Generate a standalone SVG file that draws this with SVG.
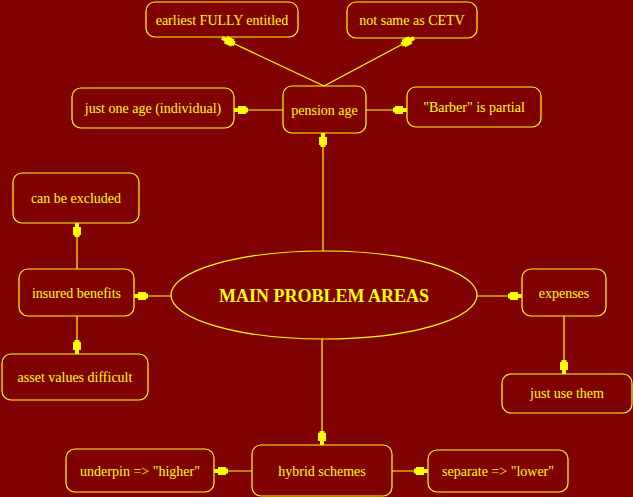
<svg xmlns="http://www.w3.org/2000/svg" width="633" height="497" viewBox="0 0 633 497">
<defs>
<style>
.n rect,.n ellipse{fill:none;stroke:#ffff00;stroke-width:1.2}
.n text{fill:#ffff00;font-family:"Liberation Serif","Times New Roman",serif;font-size:14px;text-anchor:middle}
.n text.main{font-size:18px;font-weight:bold}
#edges line{stroke:#ffff00;stroke-width:1.2;marker-end:url(#ah)}
</style>
<marker id="ah" markerUnits="userSpaceOnUse" markerWidth="16" markerHeight="12" viewBox="0 -6 15 12" refX="14" refY="0" orient="auto">
<polygon points="0,-2.5 2,-2.5 2,-4 10,-4 10,-2 14,-2 14,2 10,2 10,4 2,4 2,2.5 0,2.5" fill="#ffff00"/>
</marker>
</defs>
<rect x="0" y="0" width="633" height="497" fill="#800000"/>
<g id="edges">
<line x1="324" y1="86" x2="222" y2="38"/>
<line x1="324" y1="86" x2="414" y2="38"/>
<line x1="283" y1="110" x2="234" y2="110"/>
<line x1="366" y1="110" x2="407" y2="110"/>
<line x1="323" y1="251" x2="323" y2="133"/>
<line x1="171" y1="296" x2="134" y2="296"/>
<line x1="77" y1="269" x2="77" y2="223"/>
<line x1="77" y1="316" x2="77" y2="354"/>
<line x1="477" y1="296" x2="522" y2="296"/>
<line x1="564" y1="316" x2="564" y2="374"/>
<line x1="322" y1="339" x2="322" y2="445"/>
<line x1="252" y1="471" x2="214" y2="471"/>
<line x1="392" y1="471" x2="428" y2="471"/>
</g>
<g id="n_earliest" class="n"><rect x="146" y="2" width="152" height="35" rx="9"/><text x="222" y="25">earliest FULLY entitled</text></g>
<g id="n_cetv" class="n"><rect x="347" y="2" width="130" height="36" rx="9"/><text x="412" y="25">not same as CETV</text></g>
<g id="n_oneage" class="n"><rect x="72" y="88" width="162" height="40" rx="9"/><text x="153" y="113">just one age (individual)</text></g>
<g id="n_pension" class="n"><rect x="283" y="86" width="83" height="47" rx="9"/><text x="324.5" y="115">pension age</text></g>
<g id="n_barber" class="n"><rect x="407" y="87" width="134" height="40" rx="9"/><text x="474" y="112">"Barber" is partial</text></g>
<g id="n_excluded" class="n"><rect x="13" y="173" width="126" height="50" rx="9"/><text x="76" y="203">can be excluded</text></g>
<g id="n_insured" class="n"><rect x="19" y="269" width="115" height="47" rx="9"/><text x="76.5" y="298">insured benefits</text></g>
<g id="n_asset" class="n"><rect x="2" y="354" width="146" height="46" rx="9"/><text x="75" y="382">asset values difficult</text></g>
<g id="n_main" class="n"><ellipse cx="324" cy="295" rx="153" ry="44"/><text class="main" x="324" y="302">MAIN PROBLEM AREAS</text></g>
<g id="n_expenses" class="n"><rect x="522" y="269" width="84" height="47" rx="9"/><text x="564" y="298">expenses</text></g>
<g id="n_useThem" class="n"><rect x="502" y="374" width="130" height="39" rx="9"/><text x="567" y="398">just use them</text></g>
<g id="n_underpin" class="n"><rect x="66" y="449" width="148" height="43" rx="9"/><text x="140" y="476">underpin =&gt; "higher"</text></g>
<g id="n_hybrid" class="n"><rect x="252" y="445" width="140" height="51" rx="9"/><text x="322" y="476">hybrid schemes</text></g>
<g id="n_separate" class="n"><rect x="428" y="450" width="140" height="42" rx="9"/><text x="498" y="476">separate =&gt; "lower"</text></g>
</svg>
